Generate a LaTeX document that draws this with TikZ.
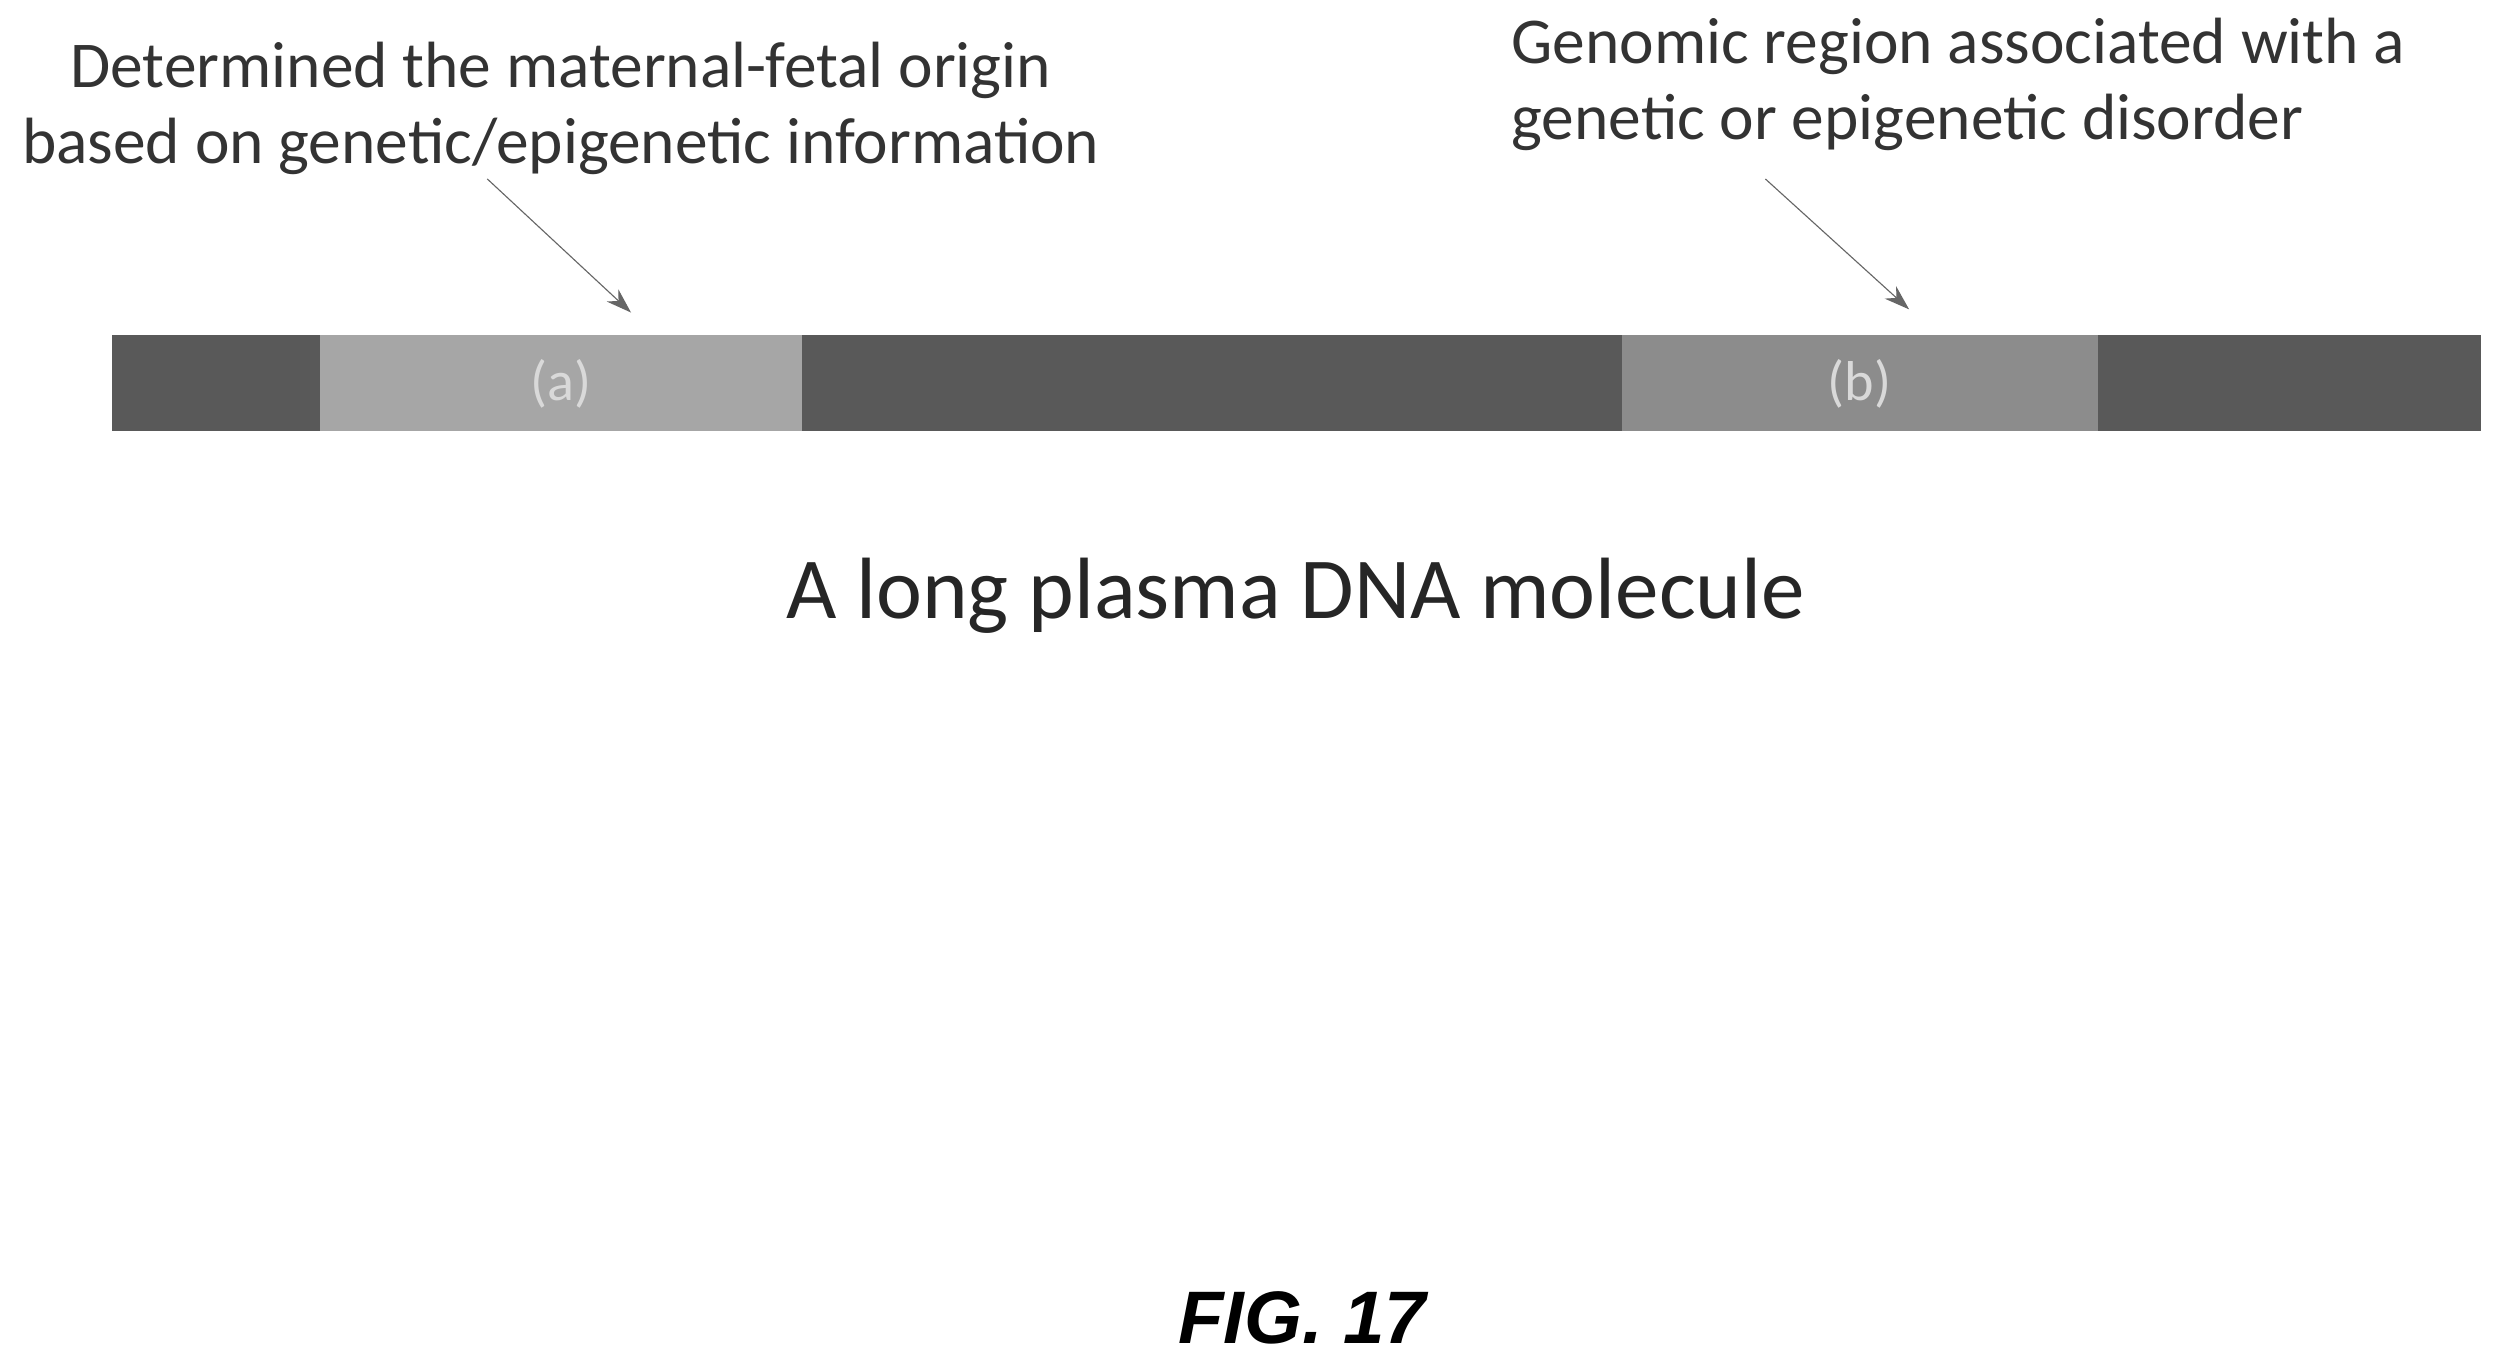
\documentclass[tikz,border=0pt]{standalone}
\usepackage{fontspec}
\setmainfont{Carlito}
\newfontfamily\figfont{Liberation Sans}
\usetikzlibrary{positioning,arrows.meta}

\begin{document}
\begin{tikzpicture}[
    x=0.02cm,y=-0.02cm,
    segdark/.style={fill=black!65,draw=none},
    segmark/.style={draw=none,text=white!85!black,font=\fontsize{20}{24}\selectfont},
    callout/.style={align=left,font=\fontsize{23.3}{27}\selectfont,text=black!80},
    pointer/.style={draw=black!60,thin,-{Stealth[length=9pt,width=6pt]}}
    ]
    \useasboundingbox (0,0) rectangle (1568,854);

    % the molecule
    \node(bar) [segdark,minimum width=29.66cm,minimum height=1.2cm,inner sep=0pt] at (811.5,240) {};
    \node(sega) [segmark,fill=black!35,minimum width=6.04cm,minimum height=1.2cm,inner sep=0pt] at (351,240) {(a)};
    \node(segb) [segmark,fill=black!45,minimum width=5.96cm,minimum height=1.2cm,inner sep=0pt] at (1164,240) {(b)};

    % callouts
    \node(origin) [callout,align=center] at (351,68) {Determined the maternal-fetal origin\\based on genetic/epigenetic information};
    \node(region) [callout,anchor=north west] at (940,5) {Genomic region associated with a\\genetic or epigenetic disorder};
    \coordinate(ptra) at (305,112);
    \coordinate(ptrb) at (1105,112);
    \draw[pointer] (ptra) -- ([shift={(44,-14)}]sega.north);
    \draw[pointer] (ptrb) -- ([shift={(31,-16)}]segb.north);

    \node(caption) [font=\fontsize{31}{36}\selectfont,text=black!85] at (811,373) {A long plasma DNA molecule};
    \node(fig) [font=\figfont\fontsize{26.5}{30}\selectfont\bfseries\itshape] at (815,825) {FIG. 17};
  \end{tikzpicture}
\end{document}
